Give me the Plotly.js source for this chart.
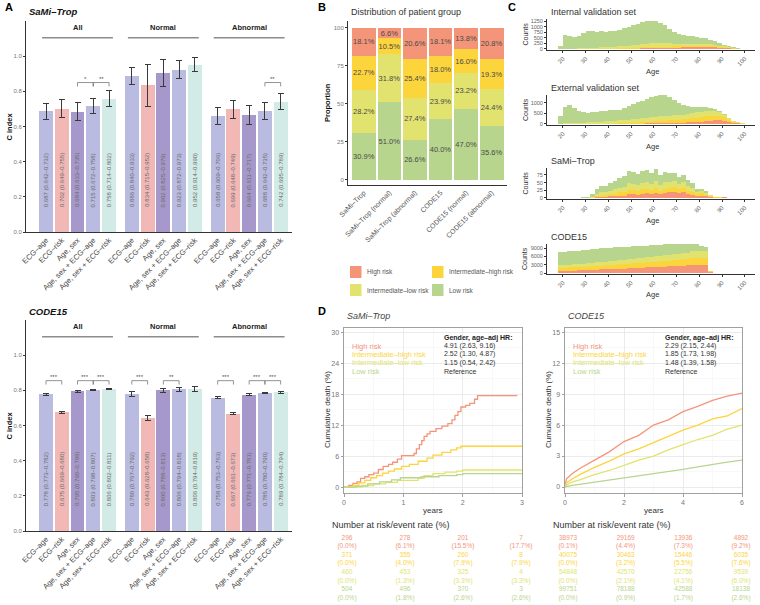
<!DOCTYPE html>
<html>
<head>
<meta charset="utf-8">
<script src="https://cdn.plot.ly/plotly-3.0.1.min.js"></script>
<style>
  body { margin: 0; background: #fff; }
  #chart { width: 760px; height: 605px; }
</style>
</head>
<body>
<div id="chart"></div>
<script>
// ---------- A: C index of each model ----------
var models = ['ECG–age', 'ECG–risk', 'Age, sex', 'Age, sex + ECG–age', 'Age, sex + ECG–risk'];
var subgroups = ['All', 'Normal', 'Abnormal'];

// SaMi-Trop, 5 models x (All, Normal, Abnormal)
var samiCindex = [0.687, 0.702, 0.684, 0.715, 0.758, 0.886, 0.834, 0.902, 0.923, 0.952, 0.658, 0.699, 0.664, 0.688, 0.742];
var samiLower = [0.642, 0.649, 0.633, 0.672, 0.714, 0.840, 0.715, 0.825, 0.872, 0.914, 0.609, 0.648, 0.611, 0.642, 0.695];
var samiUpper = [0.732, 0.755, 0.735, 0.758, 0.802, 0.933, 0.952, 0.979, 0.973, 0.990, 0.706, 0.749, 0.717, 0.735, 0.789];
var samiSig = [[2, 3, '*'], [3, 4, '**'], [13, 14, '**']];

// CODE15
var codeCindex = [0.778, 0.675, 0.795, 0.803, 0.806, 0.780, 0.643, 0.800, 0.806, 0.806, 0.758, 0.667, 0.776, 0.785, 0.789];
var codeLower = [0.773, 0.669, 0.790, 0.798, 0.802, 0.767, 0.628, 0.788, 0.794, 0.794, 0.753, 0.661, 0.771, 0.780, 0.784];
var codeUpper = [0.782, 0.680, 0.799, 0.807, 0.811, 0.792, 0.658, 0.813, 0.818, 0.819, 0.763, 0.673, 0.781, 0.790, 0.794];
var codeSig = [[0, 1, '***'], [2, 3, '***'], [3, 4, '***'], [5, 6, '***'], [7, 8, '**'], [10, 11, '***'], [12, 13, '***'], [13, 14, '***']];

// ---------- B: distribution of patient group (%) ----------
var cohorts = ['SaMi–Trop', 'SaMi–Trop (normal)', 'SaMi–Trop (abnormal)', 'CODE15', 'CODE15 (normal)', 'CODE15 (abnormal)'];
var riskGroups = ['High risk', 'Intermediate–high risk', 'Intermediate–low risk', 'Low risk'];
var propHigh = [18.1, 6.6, 20.6, 18.1, 13.8, 20.8];
var propIntHigh = [22.7, 10.5, 25.4, 18.0, 16.0, 19.3];
var propIntLow = [28.2, 31.8, 27.4, 23.9, 23.2, 24.4];
var propLow = [30.9, 51.0, 26.6, 40.0, 47.0, 35.6];

// ---------- C: age histograms (2-year bins, counts) ----------
var ageBins = [18, 20, 22, 24, 26, 28, 30, 32, 34, 36, 38, 40, 42, 44, 46, 48, 50, 52, 54, 56, 58, 60, 62, 64, 66, 68, 70, 72, 74, 76, 78, 80, 82, 84, 86, 88, 90, 92, 94, 96, 98, 100];
var ageTicks = [20, 30, 40, 50, 60, 70, 80, 90, 100];

var internalHigh = [0, 0, 0, 0, 0, 0, 0, 0, 0, 0, 0, 5, 5, 8, 10, 12, 15, 20, 25, 30, 35, 40, 45, 50, 55, 60, 65, 70, 75, 80, 85, 90, 90, 85, 75, 60, 45, 30, 15, 8, 3, 0];
var internalIntHigh = [0, 0, 0, 0, 0, 0, 2, 3, 5, 8, 10, 12, 15, 20, 25, 30, 35, 40, 50, 55, 60, 60, 60, 60, 55, 55, 55, 55, 55, 55, 55, 55, 55, 50, 45, 40, 30, 20, 12, 6, 3, 0];
var internalIntLow = [5, 20, 20, 20, 25, 30, 40, 45, 50, 60, 65, 70, 80, 90, 100, 110, 120, 130, 140, 150, 155, 160, 160, 150, 140, 130, 120, 115, 110, 105, 100, 95, 90, 80, 70, 55, 40, 25, 15, 8, 3, 0];
var internalLow = [125, 600, 540, 510, 575, 690, 778, 752, 725, 752, 705, 713, 720, 732, 795, 848, 890, 930, 985, 1035, 980, 970, 915, 790, 650, 535, 420, 380, 350, 320, 290, 260, 235, 205, 170, 135, 85, 55, 28, 8, 1, 0];

var externalHigh = [0, 0, 0, 0, 0, 0, 0, 0, 0, 2, 3, 5, 5, 8, 10, 12, 15, 18, 20, 25, 30, 35, 40, 45, 50, 55, 60, 70, 80, 90, 100, 110, 130, 150, 170, 180, 150, 100, 55, 30, 12, 4];
var externalIntHigh = [0, 0, 0, 0, 2, 3, 5, 5, 8, 10, 12, 15, 18, 22, 30, 35, 40, 50, 60, 70, 80, 90, 100, 110, 120, 130, 140, 150, 160, 180, 200, 220, 230, 230, 220, 200, 160, 100, 55, 25, 10, 2];
var externalIntLow = [10, 30, 40, 40, 50, 60, 70, 80, 90, 100, 110, 120, 130, 140, 150, 160, 170, 180, 190, 200, 210, 220, 230, 230, 230, 230, 230, 230, 240, 250, 260, 260, 260, 250, 230, 200, 140, 80, 40, 20, 6, 2];
var externalLow = [390, 790, 860, 740, 588, 497, 465, 475, 492, 498, 505, 510, 507, 520, 590, 663, 725, 782, 840, 905, 970, 1005, 1010, 995, 900, 735, 570, 450, 380, 310, 250, 230, 180, 150, 110, 60, 30, 20, 10, 5, 2, 0];

var samiHistHigh = [0, 0, 0, 0, 0, 0, 0, 0, 2, 3, 4, 5, 6, 8, 8, 12, 12, 10, 14, 15, 12, 16, 12, 15, 18, 20, 15, 18, 12, 10, 6, 8, 5, 3, 1, 1, 2, 0, 0, 0, 0, 0];
var samiHistIntHigh = [0, 0, 0, 0, 0, 0, 0, 0, 3, 5, 5, 7, 8, 10, 10, 14, 13, 12, 14, 15, 13, 15, 12, 14, 14, 15, 13, 15, 12, 10, 6, 7, 5, 3, 1, 1, 1, 0, 0, 0, 0, 0];
var samiHistIntLow = [0, 0, 0, 0, 0, 1, 1, 3, 8, 10, 10, 12, 14, 16, 18, 22, 20, 20, 22, 22, 20, 24, 20, 22, 20, 22, 18, 20, 16, 14, 8, 8, 6, 3, 1, 0, 0, 0, 0, 0, 0, 0];
var samiHistLow = [0, 0, 0, 0, 0, 1, 2, 9, 15, 20, 19, 24, 27, 31, 36, 40, 40, 36, 38, 38, 37, 38, 31, 34, 28, 25, 22, 22, 18, 14, 8, 7, 6, 1, 0, 0, 0, 0, 0, 0, 0, 0];

var codeHistHigh = [750, 800, 850, 900, 960, 1020, 1080, 1140, 1200, 1270, 1340, 1410, 1480, 1550, 1620, 1700, 1780, 1860, 1940, 2020, 2100, 2180, 2260, 2340, 2420, 2500, 2580, 2660, 2740, 2900, 2950, 2950, 2900, 300, 0, 0, 0, 0, 0, 0, 0, 0];
var codeHistIntHigh = [1100, 1120, 1150, 1180, 1200, 1230, 1260, 1290, 1320, 1360, 1400, 1440, 1480, 1520, 1560, 1600, 1650, 1700, 1750, 1800, 1850, 1900, 1950, 2000, 2060, 2120, 2180, 2240, 2300, 2420, 2480, 2500, 2450, 250, 0, 0, 0, 0, 0, 0, 0, 0];
var codeHistIntLow = [1000, 1030, 1060, 1090, 1120, 1150, 1190, 1230, 1270, 1310, 1350, 1390, 1430, 1480, 1530, 1580, 1630, 1680, 1730, 1780, 1830, 1880, 1940, 2000, 2060, 2120, 2180, 2250, 2320, 2480, 2560, 2550, 2450, 200, 0, 0, 0, 0, 0, 0, 0, 0];
var codeHistLow = [4550, 4650, 4740, 4780, 4820, 4850, 4870, 4890, 4910, 4910, 4910, 4860, 4810, 4750, 4690, 4620, 4540, 4460, 4380, 4300, 4220, 4140, 4050, 3960, 3810, 3660, 3510, 3350, 3190, 2700, 2310, 1900, 1600, 50, 0, 0, 0, 0, 0, 0, 0, 0];

// ---------- D: cumulative death (%) ----------
var samiHighT = [0, 0.08, 0.15, 0.22, 0.28, 0.35, 0.42, 0.5, 0.58, 0.66, 0.75, 0.82, 0.9, 0.97, 1.18, 1.22, 1.27, 1.31, 1.35, 1.4, 1.45, 1.55, 1.65, 1.75, 1.82, 1.87, 1.92, 1.97, 2.05, 2.12, 2.2, 2.25, 2.92];
var samiHighY = [0, 0.3, 0.7, 1.0, 1.7, 2.0, 2.4, 2.7, 3.4, 4.0, 4.4, 4.8, 5.4, 6.1, 6.5, 7.4, 8.2, 9.0, 9.8, 10.3, 10.8, 11.3, 11.8, 12.3, 13.0, 13.9, 14.6, 15.5, 15.8, 16.2, 17.0, 17.7, 17.7];
var samiIntHighT = [0, 0.15, 0.25, 0.35, 0.45, 0.55, 0.65, 0.75, 0.85, 0.97, 1.1, 1.25, 1.4, 1.5, 1.65, 1.8, 1.9, 1.97, 3.0];
var samiIntHighY = [0, 0.3, 0.8, 1.3, 1.8, 2.2, 2.7, 3.1, 3.5, 4.0, 4.4, 5.0, 5.6, 6.2, 6.7, 7.2, 7.6, 7.9, 7.9];
var samiIntLowT = [0, 0.3, 0.5, 0.7, 0.9, 1.25, 1.35, 1.5, 1.7, 1.9, 2.0, 3.0];
var samiIntLowY = [0, 0.3, 0.6, 0.9, 1.3, 1.7, 2.2, 2.6, 2.9, 3.1, 3.3, 3.3];
var samiLowT = [0, 0.2, 0.4, 0.6, 0.8, 0.95, 1.3, 1.6, 1.9, 2.0, 3.0];
var samiLowY = [0, 0.2, 0.6, 1.0, 1.4, 1.8, 2.0, 2.2, 2.4, 2.6, 2.6];

var codeKmT = [0, 0.05, 0.25, 0.5, 1, 1.5, 2, 2.5, 3, 3.5, 4, 4.5, 5, 5.5, 6];
var codeHighY = [0, 0.8, 1.3, 1.8, 2.6, 3.4, 4.4, 5.0, 6.0, 6.5, 7.3, 7.8, 8.4, 8.8, 9.1];
var codeIntHighY = [0, 0.4, 0.8, 1.2, 1.9, 2.5, 3.2, 3.7, 4.3, 4.9, 5.5, 6.0, 6.6, 6.9, 7.6];
var codeIntLowY = [0, 0.2, 0.5, 0.7, 1.2, 1.6, 2.1, 2.6, 3.0, 3.6, 4.1, 4.6, 5.0, 5.6, 6.0];
var codeLowY = [0, 0.05, 0.15, 0.25, 0.45, 0.65, 0.85, 1.05, 1.25, 1.45, 1.7, 1.95, 2.2, 2.4, 2.6];

var samiHR = ['4.91 (2.63, 9.16)', '2.52 (1.30, 4.87)', '1.15 (0.54, 2.42)', 'Reference'];
var codeHR = ['2.29 (2.15, 2.44)', '1.85 (1.73, 1.98)', '1.48 (1.39, 1.58)', 'Reference'];

// number at risk / event rate
var samiTableT = [0, 1, 2, 3];
var samiAtRisk = [[296, 278, 201, 7], [371, 355, 260, 8], [460, 453, 325, 4], [504, 496, 370, 3]];
var samiRate = [[0.0, 6.1, 15.5, 17.7], [0.0, 4.0, 7.9, 7.9], [0.0, 1.3, 3.3, 3.3], [0.0, 1.8, 2.6, 2.6]];
var codeTableT = [0, 2, 4, 6];
var codeAtRisk = [[38973, 29169, 13936, 4892], [40075, 30463, 15446, 6035], [54848, 42570, 22756, 9539], [99751, 78188, 42588, 18138]];
var codeRate = [[0.1, 4.4, 7.3, 9.2], [0.0, 3.2, 5.5, 7.6], [0.0, 2.1, 4.1, 6.0], [0.0, 0.9, 1.7, 2.6]];

// ---------- styling ----------
var modelColors = ['#b9bbe0', '#f1b8b6', '#a698ca', '#b9bbe0', '#d3ebe6'];
var riskColors = ['#f4957a', '#fcd43c', '#e2e36f', '#b8d58e'];
var FONT = 'Liberation Sans, Arial, Helvetica, sans-serif';
var W = 760, H = 605;

function fx(x) { return x / W; }
function fy(y) { return 1 - y / H; }
function xdom(l, r) { return [l / W, r / W]; }
function ydom(t, b) { return [1 - b / H, 1 - t / H]; }
function axName(n, d) { return d + (n === 1 ? '' : n); }

var traces = [];
var annotations = [];
var shapes = [];
var layout = {
    width: W, height: H,
    margin: {l: 0, r: 0, t: 0, b: 0},
    paper_bgcolor: '#fff', plot_bgcolor: '#fff',
    barmode: 'stack', showlegend: false,
    font: {family: FONT, color: '#333'}
};

function label(t, x, y, o) {
    o = o || {};
    annotations.push({
        text: t, x: fx(x), y: fy(y), xref: 'paper', yref: 'paper', showarrow: false,
        xanchor: o.xanchor || 'left', yanchor: 'middle', textangle: o.angle || 0,
        font: {family: FONT, size: o.size || 9, color: o.color || '#222'}
    });
}

// ---------- panel A ----------
var GROUP_STEP = 5.45;

function cindexPanel(n, cidx, lower, upper, sig, bracketY, top, bottom, title) {
    var xa = axName(n, 'x'), ya = axName(n, 'y');
    var pos = cidx.map(function (v, i) { return Math.floor(i / 5) * GROUP_STEP + i % 5; });

    traces.push({
        type: 'bar', x: pos, y: cidx, width: 0.88, xaxis: xa, yaxis: ya,
        marker: {color: cidx.map(function (v, i) { return modelColors[i % 5]; })},
        error_y: {
            type: 'data', symmetric: false,
            array: upper.map(function (u, i) { return u - cidx[i]; }),
            arrayminus: lower.map(function (l, i) { return cidx[i] - l; }),
            color: '#3a3a3a', thickness: 1, width: 3
        },
        hoverinfo: 'skip', showlegend: false
    });

    cidx.forEach(function (v, i) {
        annotations.push({
            xref: xa, yref: ya, x: pos[i], y: 0.295, textangle: -90, showarrow: false,
            text: v.toFixed(3) + ' (' + lower[i].toFixed(3) + '–' + upper[i].toFixed(3) + ')',
            font: {family: FONT, size: 6, color: '#6a6a6a'}
        });
    });

    subgroups.forEach(function (g, k) {
        annotations.push({
            xref: xa, yref: ya, x: k * GROUP_STEP + 2, y: 1.165, showarrow: false,
            text: '<b>' + g + '</b>', font: {family: FONT, size: 7.5, color: '#222'}
        });
        shapes.push({
            type: 'line', xref: xa, yref: ya, x0: k * GROUP_STEP - 0.25, x1: k * GROUP_STEP + 4.25,
            y0: 1.105, y1: 1.105, line: {color: '#8c8c8c', width: 1.5}
        });
    });

    sig.forEach(function (s) {
        var a = pos[s[0]], b = pos[s[1]], lo = bracketY - 0.022;
        shapes.push({
            type: 'path', xref: xa, yref: ya,
            path: 'M' + a + ',' + lo + ' L' + a + ',' + bracketY + ' L' + b + ',' + bracketY + ' L' + b + ',' + lo,
            line: {color: '#777', width: 0.8}
        });
        annotations.push({
            xref: xa, yref: ya, x: (a + b) / 2, y: bracketY, yanchor: 'bottom', yshift: -1,
            showarrow: false, text: s[2], font: {family: FONT, size: 6, color: '#555'}
        });
    });

    layout[axName(n, 'xaxis')] = {
        domain: xdom(26, 292), range: [-1.27, 15.62], anchor: ya,
        tickvals: pos, ticktext: pos.map(function (p, i) { return models[i % 5]; }),
        tickangle: -45, tickfont: {size: 7.5, color: '#444'},
        showline: true, linecolor: '#333', linewidth: 1, ticks: '', showgrid: false, zeroline: false
    };
    layout[axName(n, 'yaxis')] = {
        domain: ydom(top, bottom), range: [0, 1.2], anchor: xa,
        tickvals: [0, 0.2, 0.4, 0.6, 0.8, 1.0], ticktext: ['0.0', '0.2', '0.4', '0.6', '0.8', '1.0'],
        tickfont: {size: 6, color: '#777'}, ticks: 'outside', ticklen: 2, tickcolor: '#333',
        showline: true, linecolor: '#333', linewidth: 1, showgrid: false, zeroline: false
    };
    label('<b><i>' + title + '</i></b>', 27, top - 9, {size: 9.5, color: '#111'});
    label('<b>C index</b>', 9, (top + bottom) / 2, {angle: -90, size: 7.5, xanchor: 'center', color: '#111'});
}

cindexPanel(1, samiCindex, samiLower, samiUpper, samiSig, 0.85, 21, 232, 'SaMi–Trop');
cindexPanel(2, codeCindex, codeLower, codeUpper, codeSig, 0.855, 320, 531, 'CODE15');
label('<b>A</b>', 3, 7, {size: 11, color: '#000'});

// ---------- panel B ----------
var propByGroup = [propHigh, propIntHigh, propIntLow, propLow];
[3, 2, 1, 0].forEach(function (g) {
    traces.push({
        type: 'bar', x: cohorts, y: propByGroup[g], width: 0.93, xaxis: 'x3', yaxis: 'y3',
        marker: {color: riskColors[g], line: {width: 0}},
        text: propByGroup[g].map(function (v) { return v.toFixed(1) + '%'; }),
        textposition: 'inside', insidetextanchor: 'middle', textangle: 0, constraintext: 'none',
        textfont: {family: FONT, size: 7.5, color: '#4a4a4a'},
        hoverinfo: 'skip', showlegend: false
    });
});
layout.xaxis3 = {
    domain: xdom(348, 507), range: [-0.62, 5.6], anchor: 'y3', type: 'category',
    tickangle: -45, tickfont: {size: 7, color: '#555'},
    showline: true, linecolor: '#333', ticks: '', showgrid: false, zeroline: false
};
layout.yaxis3 = {
    domain: ydom(21, 185), range: [-3.3, 104.6], anchor: 'x3',
    tickvals: [0, 25, 50, 75, 100], tickfont: {size: 6, color: '#777'},
    ticks: 'outside', ticklen: 2, tickcolor: '#333',
    showline: true, linecolor: '#333', showgrid: false, zeroline: false
};
label('<b>B</b>', 316, 7, {size: 11, color: '#000'});
label('Distribution of patient group', 349, 12, {size: 9, color: '#333'});
label('<b>Proportion</b>', 328, 103, {angle: -90, size: 7.5, xanchor: 'center', color: '#111'});
riskGroups.forEach(function (g, k) {
    var cx = [350, 432][k % 2], cy = [272, 290][Math.floor(k / 2)];
    shapes.push({
        type: 'rect', xref: 'paper', yref: 'paper', x0: fx(cx), x1: fx(cx + 11.5), y0: fy(cy + 6), y1: fy(cy - 6),
        fillcolor: riskColors[k], line: {width: 0}
    });
    label(g, cx + 15, cy, {size: 6.5, color: '#555'});
});

// ---------- panel C ----------
var histPanels = [
    ['Internal validation set', [internalHigh, internalIntHigh, internalIntLow, internalLow], 19, 50, [-45, 1340], [0, 250, 500, 750, 1000, 1250]],
    ['External validation set', [externalHigh, externalIntHigh, externalIntLow, externalLow], 95, 125, [-48, 1380], [0, 500, 1000]],
    ['SaMi–Trop', [samiHistHigh, samiHistIntHigh, samiHistIntLow, samiHistLow], 168, 199, [-3.3, 97.8], [0, 25, 50, 75]],
    ['CODE15', [codeHistHigh, codeHistIntHigh, codeHistIntLow, codeHistLow], 244, 274, [-360, 10440], [0, 3000, 6000, 9000]]
];
histPanels.forEach(function (p, k) {
    var n = 4 + k, xa = 'x' + n, ya = 'y' + n;
    p[1].forEach(function (counts, g) {
        traces.push({
            type: 'bar', x: ageBins.map(function (a) { return a + 1; }), y: counts, width: 2,
            xaxis: xa, yaxis: ya, marker: {color: riskColors[g], line: {width: 0}},
            hoverinfo: 'skip', showlegend: false
        });
    });
    layout['xaxis' + n] = {
        domain: xdom(547, 755), range: [13, 104.5], anchor: ya,
        tickvals: ageTicks, tickangle: -45, tickfont: {size: 6, color: '#666'},
        ticks: 'outside', ticklen: 2, tickcolor: '#333',
        showline: true, linecolor: '#333', showgrid: false, zeroline: false
    };
    layout['yaxis' + n] = {
        domain: ydom(p[2], p[3]), range: p[4], anchor: xa,
        tickvals: p[5], tickfont: {size: 5.5, color: '#666'},
        ticks: 'outside', ticklen: 2, tickcolor: '#333',
        showline: true, linecolor: '#333', showgrid: false, zeroline: false
    };
    label(p[0], 549, p[2] - 7, {size: 9, color: '#333'});
    label('Counts', 525, (p[2] + p[3]) / 2, {angle: -90, size: 7, xanchor: 'center', color: '#333'});
    label('Age', 652, p[3] + 21, {size: 7.5, xanchor: 'center', color: '#333'});
});
label('<b>C</b>', 506, 7, {size: 11, color: '#000'});

// ---------- panel D ----------
function kmPanel(n, curves, shape, xr, xdt, yr, ydt, left, right, title, hr, tableN, tableT, atRisk, rate) {
    var xa = 'x' + n, ya = 'y' + n;
    curves.forEach(function (c, g) {
        traces.push({
            type: 'scatter', mode: 'lines', x: c[0], y: c[1], xaxis: xa, yaxis: ya,
            line: {color: riskColors[g], width: 1.3, shape: shape},
            hoverinfo: 'skip', showlegend: false
        });
    });
    var gridAxis = {
        showgrid: true, gridcolor: '#e6e6e6', gridwidth: 0.8, zeroline: false,
        showline: true, mirror: true, linecolor: '#a0a0a0', linewidth: 1,
        ticks: 'outside', ticklen: 2.5, tickcolor: '#a0a0a0', tickfont: {size: 7, color: '#777'}
    };
    layout['xaxis' + n] = Object.assign({}, gridAxis, {
        domain: xdom(left, right), range: xr, dtick: xdt, anchor: ya,
        minor: {dtick: xdt / 2, showgrid: true, gridcolor: '#f3f3f3', gridwidth: 0.6}
    });
    layout['yaxis' + n] = Object.assign({}, gridAxis, {
        domain: ydom(328, 493), range: yr, dtick: ydt, anchor: xa,
        minor: {dtick: ydt / 2, showgrid: true, gridcolor: '#f3f3f3', gridwidth: 0.6}
    });
    label('<i>' + title + '</i>', left + 1, 316, {size: 9, color: '#444'});
    label('Cumulative death (%)', left - 17, 410, {angle: -90, size: 8, xanchor: 'center', color: '#333'});
    label('years', (left + right) / 2, 510, {size: 8, xanchor: 'center', color: '#333'});
    label('<b>Gender, age–adj HR:</b>', left + 98, 338, {size: 7, color: '#222'});
    riskGroups.forEach(function (g, k) {
        label(g, left + 6, 346 + k * 8.4, {size: 7.5, color: riskColors[k]});
        label(hr[k], left + 98, 346 + k * 8.4, {size: 7, color: '#333'});
    });

    // risk table on its own hidden axes
    var tx = 'x' + tableN, ty = 'y' + tableN;
    atRisk.forEach(function (counts, g) {
        traces.push({
            type: 'scatter', mode: 'text', xaxis: tx, yaxis: ty, cliponaxis: false,
            x: tableT.concat(tableT),
            y: tableT.map(function () { return 2 * g; }).concat(tableT.map(function () { return 2 * g + 1; })),
            text: counts.map(String).concat(rate[g].map(function (r) { return '(' + r.toFixed(1) + '%)'; })),
            textfont: {family: FONT, size: 6.5, color: riskColors[g]},
            hoverinfo: 'skip', showlegend: false
        });
    });
    layout['xaxis' + tableN] = {domain: xdom(left + 3, right - 1), range: [tableT[0], tableT[3]], visible: false, anchor: ty};
    layout['yaxis' + tableN] = {domain: ydom(533.7, 602.5), range: [7.5, -0.5], visible: false, anchor: tx};
    label('Number at risk/event rate (%)', left - 14, 525, {size: 9, color: '#333'});
}

kmPanel(8, [[samiHighT, samiHighY], [samiIntHighT, samiIntHighY], [samiIntLowT, samiIntLowY], [samiLowT, samiLowY]],
    'hv', [0, 3], 1, [-1.15, 30.8], 6, 344, 522, 'SaMi–Trop', samiHR, 10, samiTableT, samiAtRisk, samiRate);
kmPanel(9, [[codeKmT, codeHighY], [codeKmT, codeIntHighY], [codeKmT, codeIntLowY], [codeKmT, codeLowY]],
    'linear', [0, 6], 2, [-0.58, 15.4], 3, 565, 742, 'CODE15', codeHR, 11, codeTableT, codeAtRisk, codeRate);
label('<b>D</b>', 316, 311, {size: 11, color: '#000'});

layout.annotations = annotations;
layout.shapes = shapes;

Plotly.newPlot('chart', traces, layout, {displayModeBar: false, staticPlot: true});
</script>
</body>
</html>
